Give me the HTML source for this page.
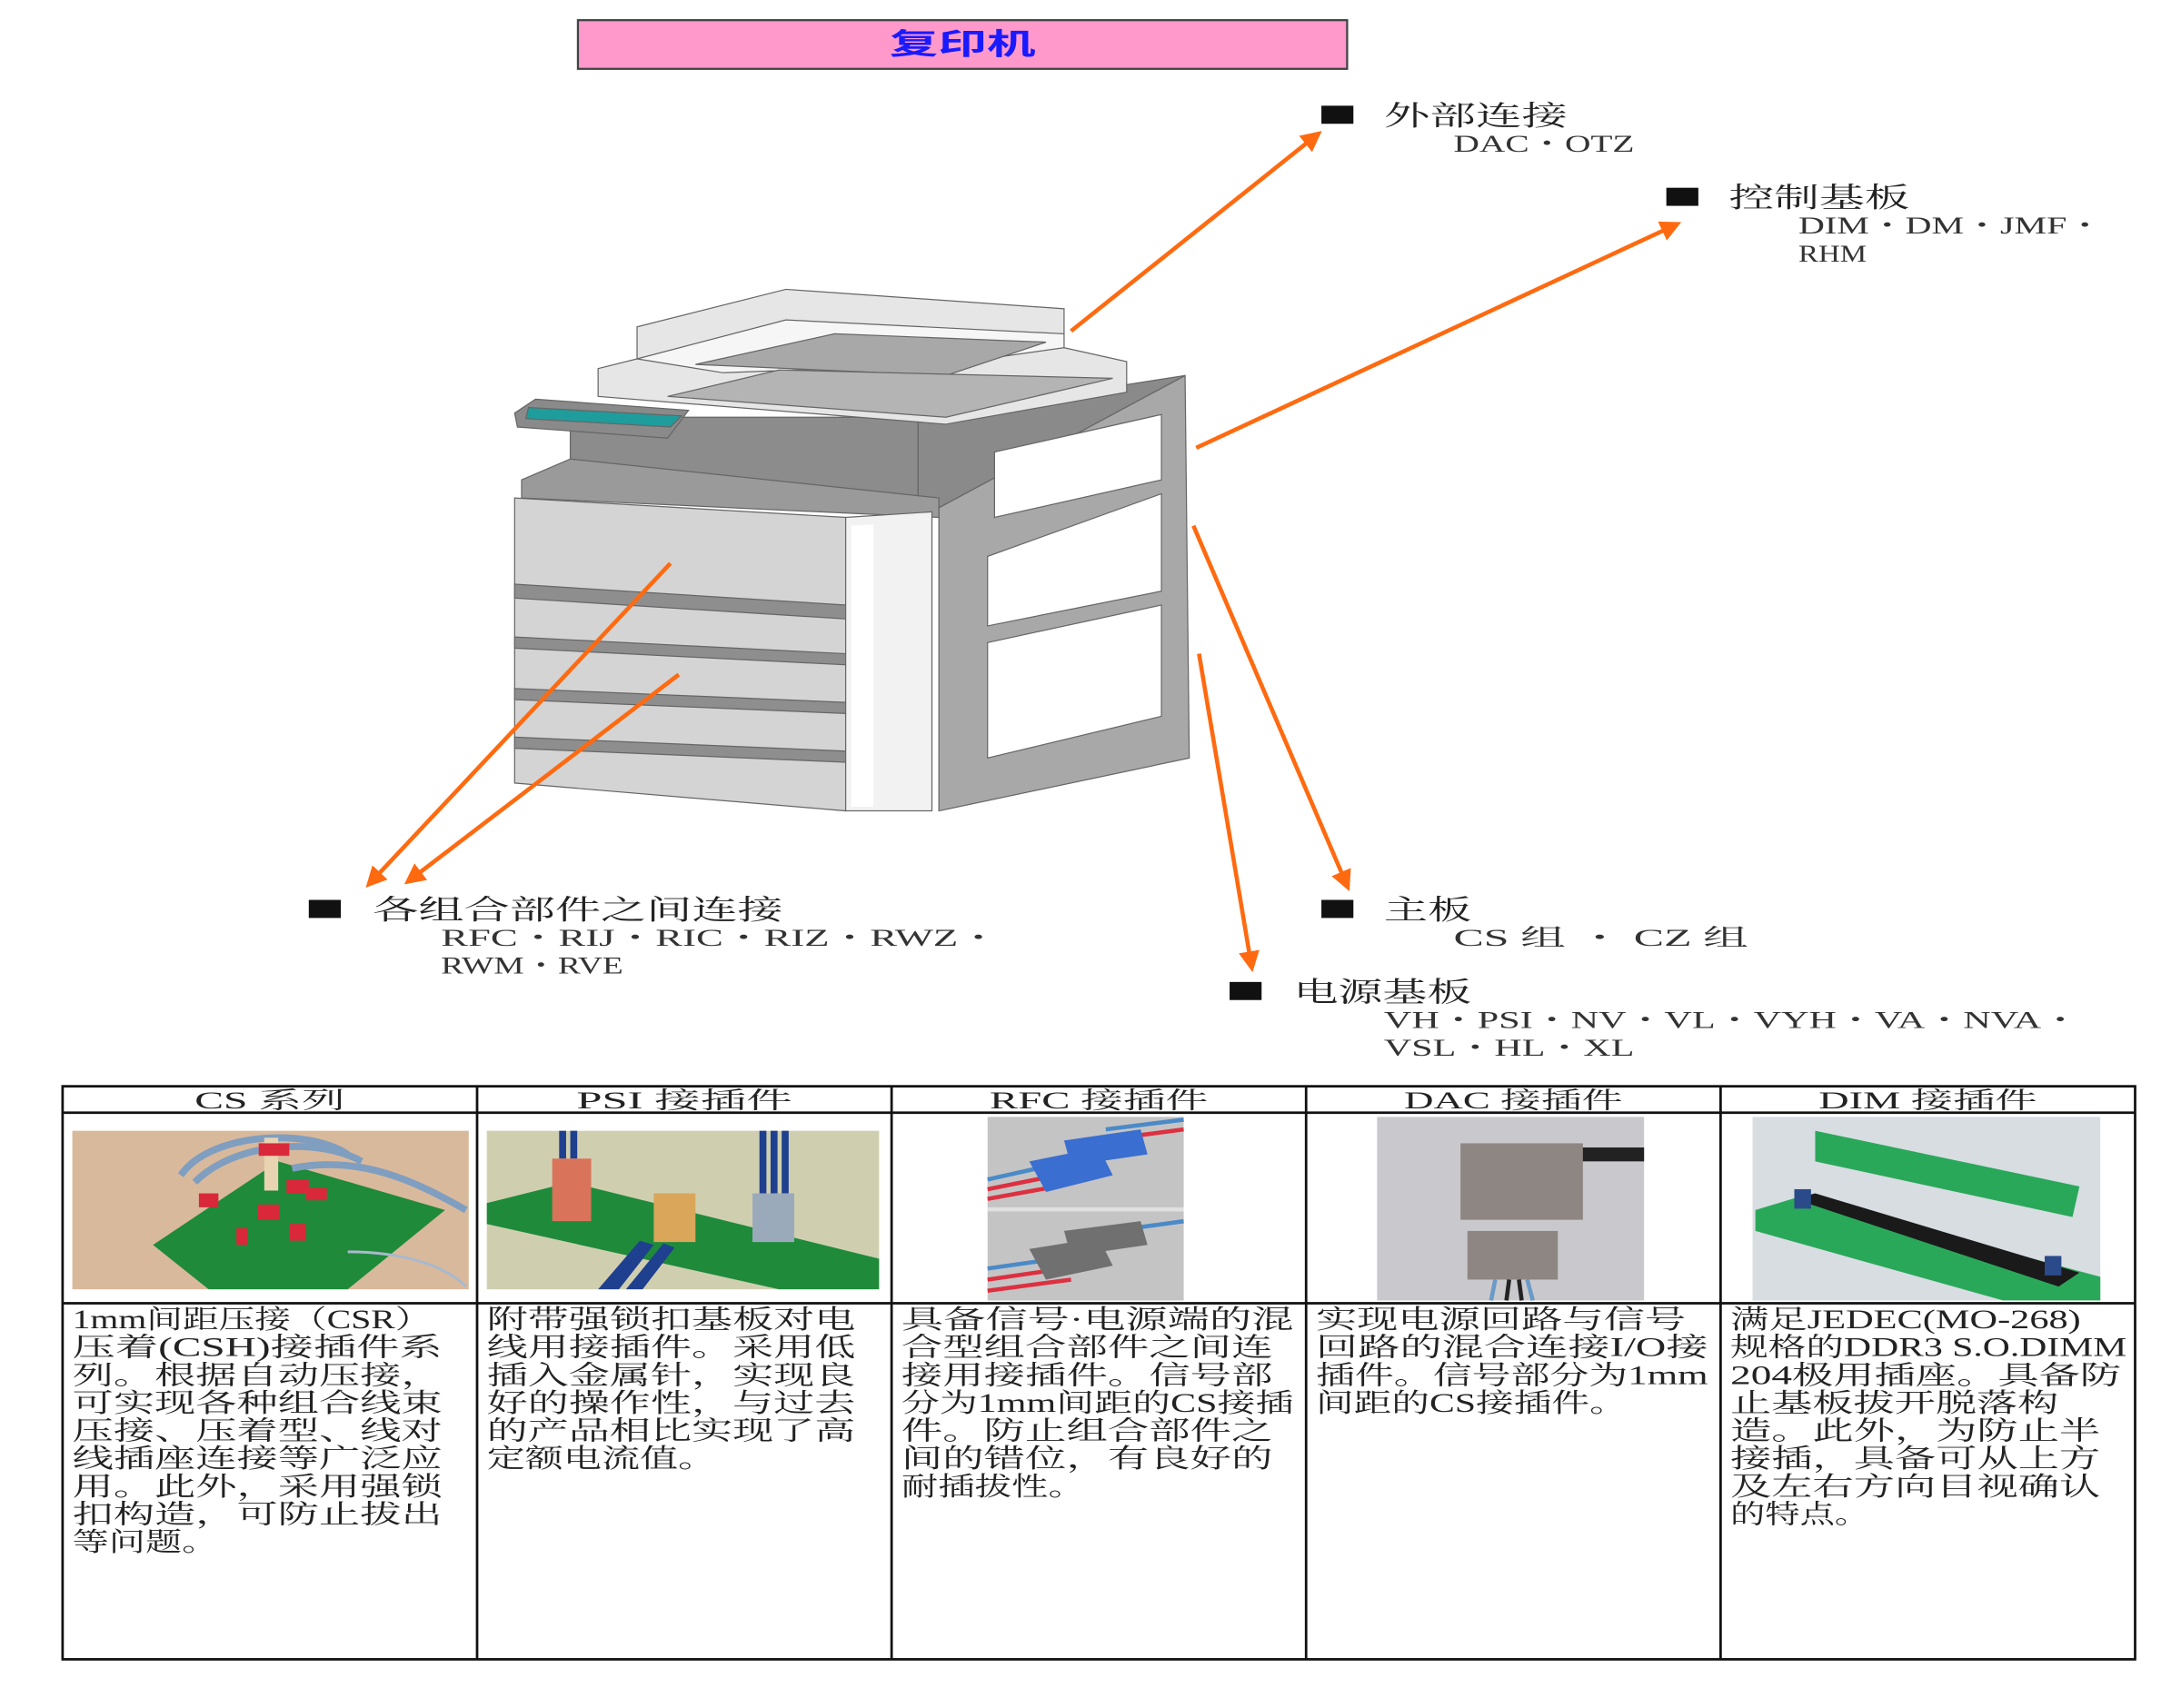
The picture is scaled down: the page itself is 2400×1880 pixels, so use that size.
<!DOCTYPE html>
<html><head><meta charset="utf-8"><style>
html,body{margin:0;padding:0;background:#fff;}
svg{display:block;}
.cj{font-family:"Liberation Serif","Noto Serif CJK SC","Noto Sans CJK SC",serif;fill:#222;}
.lt{font-family:"Liberation Serif","Noto Serif CJK SC",serif;fill:#333;}
</style></head><body>
<svg width="2400" height="1880" viewBox="0 0 1568 1228" preserveAspectRatio="none" xmlns="http://www.w3.org/2000/svg">
<defs>
<marker id="ah" viewBox="0 0 10 10" refX="8" refY="5" markerWidth="5" markerHeight="5" orient="auto" markerUnits="strokeWidth">
<path d="M0,0 L10,5 L0,10 z" fill="#ff6a10"/></marker>
</defs>
<!-- title -->
<rect x="415.5" y="14.5" width="553" height="35" fill="#ff99cc" stroke="#444" stroke-width="1.5"/>
<text x="692" y="39" text-anchor="middle" font-size="21" font-weight="bold" fill="#1a1aff" font-family="Liberation Sans,'Noto Sans CJK SC',sans-serif" textLength="105" lengthAdjust="spacingAndGlyphs">复印机</text>

<!-- copier -->
<g stroke="#666" stroke-width="0.8">
<polygon points="675,365 852,270 855,545 675,583" fill="#a8a8a8"/>
<polygon points="660,300 852,270 675,365 660,368" fill="#8a8a8a"/>
<polygon points="410,300 660,300 660,368 600,362 410,330" fill="#8c8c8c"/>
<polygon points="375,345 410,330 600,350 675,358 675,372 375,358" fill="#9a9a9a"/>
<polygon points="370,358 608,372 608,583 370,563" fill="#d4d4d4"/>
<polygon points="370,420 608,435 608,445 370,430" fill="#8e8e8e"/>
<polygon points="370,458 608,470 608,478 370,466" fill="#8e8e8e"/>
<polygon points="370,495 608,505 608,513 370,503" fill="#8e8e8e"/>
<polygon points="370,530 608,540 608,548 370,538" fill="#8e8e8e"/>
<polygon points="608,372 670,368 670,583 608,583" fill="#f2f2f2"/>
<polygon points="612,378 628,377 628,580 612,580" fill="#ffffff" stroke="none"/>
<polygon points="715,325 835,298 835,345 715,372" fill="#fff"/>
<polygon points="710,400 835,355 835,425 710,450" fill="#fff"/>
<polygon points="710,462 835,435 835,515 710,545" fill="#fff"/>
<polygon points="430,265 458,258 458,235 565,208 765,222 765,250 810,260 810,282 680,305 430,285" fill="#e6e6e6"/>
<polygon points="458,258 565,230 765,240 765,250 680,262 520,268" fill="#f6f6f6"/>
<polygon points="500,262 600,240 752,246 680,270" fill="#a8a8a8"/>
<polygon points="480,285 560,266 800,272 680,300" fill="#b4b4b4"/>
<polygon points="370,297 385,287 495,295 480,315 372,307" fill="#8a8a8a"/>
<polygon points="380,293 490,299 482,307 378,301" fill="#1f9c9c"/>
</g>

<!-- arrows -->
<g stroke="#ff6a10" stroke-width="3" fill="none" marker-end="url(#ah)">
<line x1="770" y1="238" x2="948" y2="96"/>
<line x1="860" y1="322" x2="1206" y2="161"/>
<line x1="482" y1="405" x2="265" y2="636"/>
<line x1="488" y1="485" x2="293" y2="634"/>
<line x1="858" y1="378" x2="969" y2="638"/>
<line x1="862" y1="470" x2="900" y2="696"/>
</g>

<!-- labels -->
<g fill="#111">
<rect x="950" y="76" width="23" height="13"/>
<rect x="1198" y="135" width="23" height="13"/>
<rect x="222" y="647" width="23" height="13"/>
<rect x="950" y="647" width="23" height="13"/>
<rect x="884" y="706" width="23" height="13"/>
</g>
<g class="cj" font-size="20">
<text x="995" y="90" textLength="132" lengthAdjust="spacingAndGlyphs">外部连接</text>
<text x="1243" y="149" textLength="130" lengthAdjust="spacingAndGlyphs">控制基板</text>
<text x="268" y="661" textLength="295" lengthAdjust="spacingAndGlyphs">各组合部件之间连接</text>
<text x="995" y="661" textLength="63" lengthAdjust="spacingAndGlyphs">主板</text>
<text x="930" y="720" textLength="128" lengthAdjust="spacingAndGlyphs">电源基板</text>
</g>
<g class="lt" font-size="17">
<text x="1045" y="109" textLength="130" lengthAdjust="spacingAndGlyphs">DAC・OTZ</text>
<text x="1293" y="168" textLength="219" lengthAdjust="spacingAndGlyphs">DIM・DM・JMF・</text>
<text x="1293" y="188" textLength="49" lengthAdjust="spacingAndGlyphs">RHM</text>
<text x="317" y="680" textLength="401" lengthAdjust="spacingAndGlyphs">RFC・RIJ・RIC・RIZ・RWZ・</text>
<text x="317" y="700" textLength="131" lengthAdjust="spacingAndGlyphs">RWM・RVE</text>
<text x="1045" y="680" textLength="212" lengthAdjust="spacingAndGlyphs">CS 组 ・ CZ 组</text>
<text x="995" y="739" textLength="500" lengthAdjust="spacingAndGlyphs">VH・PSI・NV・VL・VYH・VA・NVA・</text>
<text x="995" y="759" textLength="180" lengthAdjust="spacingAndGlyphs">VSL・HL・XL</text>
</g>

<!-- table -->
<g stroke="#111" stroke-width="1.8" fill="none">
<rect x="45" y="781" width="1490" height="412"/>
<line x1="45" y1="800" x2="1535" y2="800"/>
<line x1="45" y1="937" x2="1535" y2="937"/>
<line x1="343" y1="781" x2="343" y2="1193"/>
<line x1="641" y1="781" x2="641" y2="1193"/>
<line x1="939" y1="781" x2="939" y2="1193"/>
<line x1="1237" y1="781" x2="1237" y2="1193"/>
</g>
<g class="cj" font-size="17" text-anchor="middle">
<text x="194" y="797" textLength="108" lengthAdjust="spacingAndGlyphs">CS 系列</text>
<text x="492" y="797" textLength="155" lengthAdjust="spacingAndGlyphs">PSI 接插件</text>
<text x="790" y="797" textLength="157" lengthAdjust="spacingAndGlyphs">RFC 接插件</text>
<text x="1088" y="797" textLength="157" lengthAdjust="spacingAndGlyphs">DAC 接插件</text>
<text x="1386" y="797" textLength="157" lengthAdjust="spacingAndGlyphs">DIM 接插件</text>
</g>

<!-- photos -->
<!-- col1 -->
<rect x="52" y="813" width="285" height="114" fill="#d9b99c"/>
<polygon points="110,895 200,835 320,870 250,927 150,927" fill="#1f8a3a"/>
<path d="M130,845 C150,815 220,810 250,830 M140,850 C170,820 230,818 260,835 M210,840 C260,830 300,850 335,870" stroke="#7f9ec0" stroke-width="5" fill="none"/>
<path d="M250,900 C290,900 320,910 335,925" stroke="#a9b9cc" stroke-width="2" fill="none"/>
<rect x="190" y="818" width="10" height="38" fill="#e8d4b0"/>
<g fill="#d9283a"><rect x="143" y="858" width="14" height="10"/><rect x="206" y="848" width="16" height="10"/><rect x="220" y="854" width="15" height="9"/><rect x="185" y="866" width="16" height="11"/><rect x="170" y="883" width="8" height="12"/><rect x="208" y="880" width="12" height="12"/><rect x="186" y="822" width="22" height="9"/></g>
<!-- col2 -->
<rect x="350" y="813" width="282" height="114" fill="#cfcfb0"/>
<polygon points="350,865 410,850 632,905 632,927 560,927 350,880" fill="#1f8a3a"/>
<g fill="#1f3f8f"><rect x="402" y="813" width="5" height="20"/><rect x="410" y="813" width="5" height="20"/><rect x="546" y="813" width="5" height="45"/><rect x="554" y="813" width="5" height="45"/><rect x="562" y="813" width="5" height="45"/></g>
<polygon points="430,927 445,927 470,895 460,892" fill="#1f3f8f"/>
<polygon points="450,927 462,927 485,897 477,894" fill="#1f3f8f"/>
<rect x="397" y="833" width="28" height="45" fill="#d9735a"/>
<rect x="470" y="858" width="30" height="35" fill="#d9a65a"/>
<rect x="541" y="858" width="30" height="35" fill="#9aaabb"/>
<!-- col3 -->
<rect x="710" y="803" width="141" height="132" fill="#c4c4c4"/>
<rect x="710" y="868" width="141" height="3" fill="#e0e0e0"/>
<g stroke="#dd3040" stroke-width="3"><line x1="710" y1="855" x2="760" y2="845"/><line x1="710" y1="862" x2="765" y2="852"/><line x1="790" y1="820" x2="851" y2="812"/><line x1="710" y1="920" x2="765" y2="912"/><line x1="710" y1="928" x2="770" y2="920"/></g>
<g stroke="#4a8ac8" stroke-width="3"><line x1="710" y1="848" x2="755" y2="838"/><line x1="795" y1="812" x2="851" y2="805"/><line x1="710" y1="912" x2="760" y2="905"/><line x1="800" y1="885" x2="851" y2="878"/></g>
<polygon points="740,835 790,825 800,845 752,857" fill="#3a6ed0"/>
<polygon points="765,820 820,812 825,830 770,838" fill="#3a6ed0"/>
<polygon points="740,898 790,890 800,910 752,920" fill="#707070"/>
<polygon points="765,885 820,878 825,895 770,903" fill="#707070"/>
<!-- col4 -->
<rect x="990" y="803" width="192" height="132" fill="#c9c9cd"/>
<rect x="1135" y="825" width="47" height="10" fill="#222"/>
<rect x="1050" y="822" width="88" height="55" fill="#8e8682"/>
<rect x="1055" y="885" width="65" height="35" fill="#8e8682"/>
<g stroke="#6a9ac8" stroke-width="3"><line x1="1075" y1="920" x2="1072" y2="935"/><line x1="1098" y1="920" x2="1102" y2="935"/></g>
<g stroke="#222" stroke-width="3"><line x1="1085" y1="920" x2="1083" y2="935"/><line x1="1092" y1="920" x2="1094" y2="935"/></g>
<!-- col5 -->
<rect x="1260" y="803" width="250" height="132" fill="#d8dde2"/>
<polygon points="1262,870 1295,860 1510,918 1510,935 1440,935 1262,885" fill="#2aa85a"/>
<polygon points="1305,813 1495,853 1490,875 1305,835" fill="#2aa85a"/>
<polygon points="1290,862 1305,858 1495,915 1480,925" fill="#1a1a1a"/>
<rect x="1290" y="855" width="12" height="14" fill="#2a4a8a"/>
<rect x="1470" y="903" width="12" height="14" fill="#2a4a8a"/>

<!-- cell text -->
<g class="cj" font-size="19" lengthAdjust="spacingAndGlyphs">
<text x="52" y="955" textLength="258" lengthAdjust="spacingAndGlyphs">1mm间距压接（CSR）</text>
<text x="52" y="975" textLength="266" lengthAdjust="spacingAndGlyphs">压着(CSH)接插件系</text>
<text x="52" y="995" textLength="266" lengthAdjust="spacingAndGlyphs">列。根据自动压接，</text>
<text x="52" y="1015" textLength="266" lengthAdjust="spacingAndGlyphs">可实现各种组合线束</text>
<text x="52" y="1035" textLength="266" lengthAdjust="spacingAndGlyphs">压接、压着型、线对</text>
<text x="52" y="1055" textLength="266" lengthAdjust="spacingAndGlyphs">线插座连接等广泛应</text>
<text x="52" y="1075" textLength="266" lengthAdjust="spacingAndGlyphs">用。此外，采用强锁</text>
<text x="52" y="1095" textLength="266" lengthAdjust="spacingAndGlyphs">扣构造，可防止拔出</text>
<text x="52" y="1115" textLength="105" lengthAdjust="spacingAndGlyphs">等问题。</text>

<text x="350" y="955" textLength="265" lengthAdjust="spacingAndGlyphs">附带强锁扣基板对电</text>
<text x="350" y="975" textLength="265" lengthAdjust="spacingAndGlyphs">线用接插件。采用低</text>
<text x="350" y="995" textLength="265" lengthAdjust="spacingAndGlyphs">插入金属针，实现良</text>
<text x="350" y="1015" textLength="265" lengthAdjust="spacingAndGlyphs">好的操作性，与过去</text>
<text x="350" y="1035" textLength="265" lengthAdjust="spacingAndGlyphs">的产品相比实现了高</text>
<text x="350" y="1055" textLength="165" lengthAdjust="spacingAndGlyphs">定额电流值。</text>

<text x="648" y="955" textLength="282" lengthAdjust="spacingAndGlyphs">具备信号·电源端的混</text>
<text x="648" y="975" textLength="267" lengthAdjust="spacingAndGlyphs">合型组合部件之间连</text>
<text x="648" y="995" textLength="267" lengthAdjust="spacingAndGlyphs">接用接插件。信号部</text>
<text x="648" y="1015" textLength="282" lengthAdjust="spacingAndGlyphs">分为1mm间距的CS接插</text>
<text x="648" y="1035" textLength="267" lengthAdjust="spacingAndGlyphs">件。防止组合部件之</text>
<text x="648" y="1055" textLength="267" lengthAdjust="spacingAndGlyphs">间的错位，有良好的</text>
<text x="648" y="1075" textLength="132" lengthAdjust="spacingAndGlyphs">耐插拔性。</text>

<text x="946" y="955" textLength="266" lengthAdjust="spacingAndGlyphs">实现电源回路与信号</text>
<text x="946" y="975" textLength="282" lengthAdjust="spacingAndGlyphs">回路的混合连接I/O接</text>
<text x="946" y="995" textLength="282" lengthAdjust="spacingAndGlyphs">插件。信号部分为1mm</text>
<text x="946" y="1015" textLength="224" lengthAdjust="spacingAndGlyphs">间距的CS接插件。</text>

<text x="1244" y="955" textLength="252" lengthAdjust="spacingAndGlyphs">满足JEDEC(MO-268)</text>
<text x="1244" y="975" textLength="285" lengthAdjust="spacingAndGlyphs">规格的DDR3 S.O.DIMM</text>
<text x="1244" y="995" textLength="281" lengthAdjust="spacingAndGlyphs">204极用插座。具备防</text>
<text x="1244" y="1015" textLength="236" lengthAdjust="spacingAndGlyphs">止基板拔开脱落构</text>
<text x="1244" y="1035" textLength="266" lengthAdjust="spacingAndGlyphs">造。此外，为防止半</text>
<text x="1244" y="1055" textLength="266" lengthAdjust="spacingAndGlyphs">接插，具备可从上方</text>
<text x="1244" y="1075" textLength="266" lengthAdjust="spacingAndGlyphs">及左右方向目视确认</text>
<text x="1244" y="1095" textLength="100" lengthAdjust="spacingAndGlyphs">的特点。</text>
</g>
</svg>
</body></html>
